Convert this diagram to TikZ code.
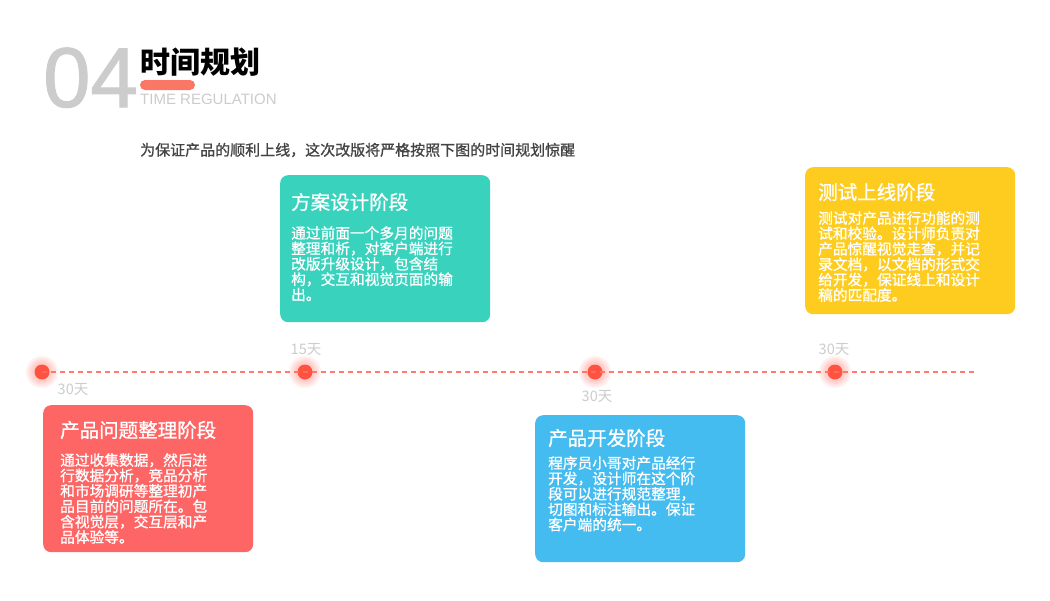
\documentclass[tikz,border=0pt]{standalone}
\usepackage{fontspec}
\setmainfont{Noto Sans CJK SC}
\newfontfamily\latinfont{Liberation Sans}
\newfontfamily\numfont{Liberation Sans}[FakeBold=1.2]
\newfontfamily\medfont{Noto Sans CJK SC}[FakeBold=1]
\usetikzlibrary{positioning}
\definecolor{stagered}{HTML}{FE6565}
\definecolor{stageteal}{HTML}{38D2BD}
\definecolor{stageblue}{HTML}{45BCF0}
\definecolor{stageyellow}{HTML}{FDCC1F}
\definecolor{dotred}{HTML}{FF5240}
\definecolor{dashred}{HTML}{FF6E5E}
\definecolor{barred}{HTML}{F97764}
\definecolor{lightgray}{HTML}{CCCCCC}
\definecolor{textgray}{HTML}{444444}
\begin{document}
\begin{tikzpicture}[x=1pt, y=-1pt,
    stagebox/.style={rounded corners=8pt, minimum width=210pt, minimum height=147pt, inner sep=0pt, anchor=north west},
    stagetitle/.style={anchor=west, inner sep=0pt, text=white, font=\medfont\fontsize{19.5}{22}\selectfont},
    stagebody/.style={anchor=north west, inner sep=0pt, align=left, text=white, font=\medfont\fontsize{14.7}{15.4}\selectfont},
    daylabel/.style={inner sep=0pt, text=lightgray, font=\fontsize{14.5}{16}\selectfont},
    dot/.style={circle, fill=dotred, minimum size=15pt, inner sep=0pt}]
    % canvas
    \useasboundingbox[fill=white] (0,0) rectangle (1050,600);
    % heading
    \node[anchor=base west, inner sep=0pt, text=lightgray, font=\numfont\fontsize{85}{85}\selectfont] (num) at (43,107) {04};
    \node[anchor=west, inner sep=0pt, font=\bfseries\fontsize{30}{32}\selectfont] (head) at (140,62) {时间规划};
    \fill[barred, rounded corners=5pt] (140,80) rectangle (195,90);
    \node[anchor=base west, inner sep=0pt, text=lightgray, font=\latinfont\fontsize{15}{16}\selectfont] (sub) at (140,104) {TIME REGULATION};
    \node[anchor=west, inner sep=0pt, text=textgray, font=\medfont\fontsize{15}{16}\selectfont] (intro) at (140,150) {为保证产品的顺利上线，这次改版将严格按照下图的时间规划惊醒};
    % timeline dots with glow
    \foreach \n/\x in {d1/42, d2/305, d3/595, d4/835} {
        \foreach \r in {16,14,12,10}
            \fill[dotred, fill opacity=0.08] (\x,372) circle (\r pt);
        \node[dot] (\n) at (\x,372) {};
    }
    \coordinate (tend) at (975,372);
    \draw[dashred, line width=2.2pt, dash pattern=on 5pt off 4pt, opacity=0.9] (d1.center) -- (tend);
    % durations
    \node[daylabel] (l1) at (73,390) {30天};
    \node[daylabel] (l2) at (306,350) {15天};
    \node[daylabel] (l3) at (597,397) {30天};
    \node[daylabel] (l4) at (834,350) {30天};
    % stages
    \node[stagebox, fill=stagered] (s1) at (43,405) {};
    \node[stagetitle] (t1) at (60,430) {产品问题整理阶段};
    \node[stagebody] (b1) at (60,453) {通过收集数据，然后进\\行数据分析，竞品分析\\和市场调研等整理初产\\品目前的问题所在。包\\含视觉层，交互层和产\\品体验等。};

    \node[stagebox, fill=stageteal] (s2) at (280,175) {};
    \node[stagetitle] (t2) at (291,202) {方案设计阶段};
    \node[stagebody] (b2) at (291,226) {通过前面一个多月的问题\\整理和析，对客户端进行\\改版升级设计，包含结\\构，交互和视觉页面的输\\出。};

    \node[stagebox, fill=stageblue] (s3) at (535,415) {};
    \node[stagetitle] (t3) at (548,438) {产品开发阶段};
    \node[stagebody] (b3) at (548,456) {程序员小哥对产品经行\\开发，设计师在这个阶\\段可以进行规范整理，\\切图和标注输出。保证\\客户端的统一。};

    \node[stagebox, fill=stageyellow] (s4) at (805,167) {};
    \node[stagetitle] (t4) at (818,192) {测试上线阶段};
    \node[stagebody] (b4) at (818,211) {测试对产品进行功能的测\\试和校验。设计师负责对\\产品惊醒视觉走查，并记\\录文档，以文档的形式交\\给开发，保证线上和设计\\稿的匹配度。};
\end{tikzpicture}
\end{document}
